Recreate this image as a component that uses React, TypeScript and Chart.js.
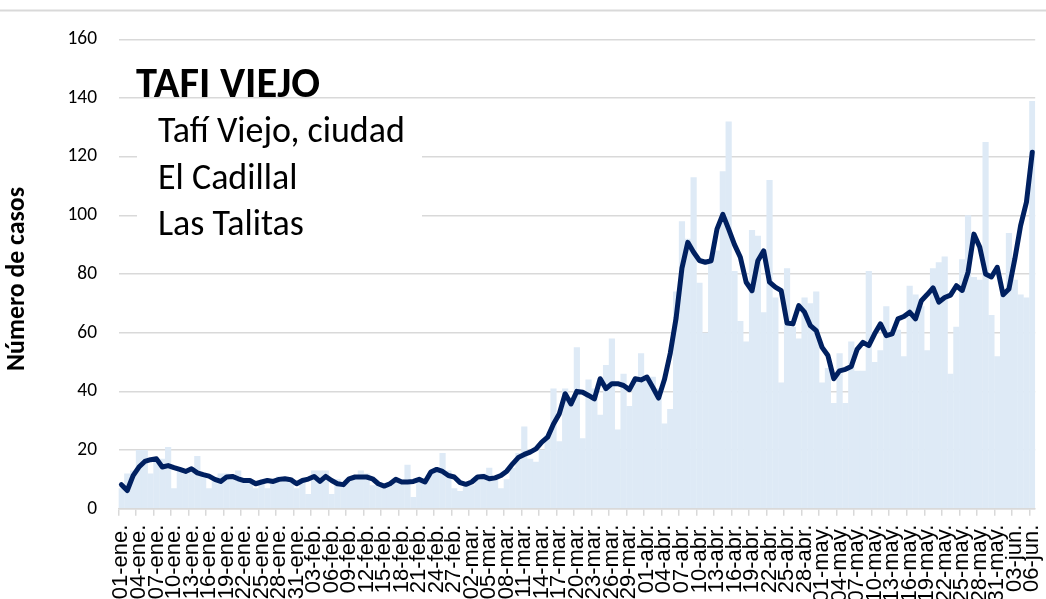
import React, { useEffect, useRef } from 'react';
import { Chart, registerables } from 'chart.js';

Chart.register(...registerables);

const MONTHS = ['ene', 'feb', 'mar', 'abr', 'may', 'jun'];
const MONTH_DAYS = [31, 28, 31, 30, 31, 6];
const LABELS: string[] = [];
MONTHS.forEach((m, mi) => {
  for (let d = 1; d <= MONTH_DAYS[mi]; d++) LABELS.push(`${String(d).padStart(2, '0')}-${m}.`);
});

// daily cases (bars)
const CASES_ENE = [7, 12, 13, 20, 20, 12, 16, 17, 21, 7, 14, 12, 14, 18, 12, 7, 10, 12, 12, 10, 13, 10, 9, 7, 9, 7, 10, 11, 10, 9, 7];
const CASES_FEB = [10, 5, 13, 13, 13, 5, 10, 9, 10, 10, 13, 12, 8, 8, 7, 8, 9, 10, 15, 4, 9, 10, 12, 14, 19, 13, 7, 6];
const CASES_MAR = [8, 8, 10, 12, 14, 10, 7, 10, 14, 19, 28, 17, 16, 20, 25, 41, 23, 41, 38, 55, 24, 44, 41, 32, 49, 58, 27, 46, 35, 44, 53];
const CASES_ABR = [44, 45, 41, 29, 34, 74, 98, 92, 113, 77, 60, 84, 88, 115, 132, 81, 64, 57, 95, 93, 67, 112, 72, 43, 82, 62, 58, 72, 70, 74];
const CASES_MAY = [43, 48, 36, 53, 36, 57, 47, 47, 81, 50, 54, 69, 61, 61, 52, 76, 73, 69, 54, 82, 84, 86, 46, 62, 85, 100, 79, 78, 125, 66, 52];
const CASES_JUN = [73, 94, 78, 73, 72, 139];

// moving average (line)
const AVG_ENE = [8.2, 6.2, 11.3, 14.2, 16.1, 16.7, 17.0, 14.2, 14.7, 14.0, 13.4, 12.7, 13.6, 12.2, 11.6, 11.1, 10.0, 9.3, 10.8, 11.0, 10.2, 9.6, 9.6, 8.5, 9.1, 9.6, 9.3, 10.0, 10.2, 9.9, 8.5];
const AVG_FEB = [9.6, 10.1, 11.0, 9.3, 11.0, 9.6, 8.5, 8.2, 10.2, 10.8, 10.8, 10.8, 10.2, 8.5, 7.7, 8.5, 10.0, 9.1, 9.1, 9.3, 10.0, 9.1, 12.5, 13.4, 12.7, 11.3, 10.8, 8.9];
const AVG_MAR = [8.3, 9.1, 10.8, 11.0, 10.2, 10.5, 11.3, 12.8, 15.3, 17.5, 18.5, 19.3, 20.4, 22.7, 24.4, 28.9, 32.4, 39.2, 35.7, 40.0, 39.7, 38.6, 37.4, 44.3, 40.9, 42.6, 42.6, 42.0, 40.6, 44.3, 43.9];
const AVG_ABR = [44.9, 41.4, 37.7, 44.0, 53.0, 65.0, 82.0, 90.8, 87.4, 84.6, 84.0, 84.5, 95.3, 100.3, 95.3, 90.0, 85.7, 77.2, 74.3, 84.5, 87.9, 77.2, 75.5, 74.3, 63.3, 63.0, 69.2, 67.0, 62.4, 60.7];
const AVG_MAY = [55.0, 52.2, 44.3, 47.0, 47.5, 48.5, 54.3, 56.7, 55.6, 59.6, 63.0, 59.0, 59.6, 64.7, 65.5, 67.0, 64.7, 70.9, 73.0, 75.3, 70.4, 72.0, 72.8, 76.0, 74.4, 80.6, 93.6, 89.2, 80.0, 79.0, 82.3];
const AVG_JUN = [72.9, 74.9, 85.0, 96.5, 104.5, 121.5];

const CASES = [...CASES_ENE, ...CASES_FEB, ...CASES_MAR, ...CASES_ABR, ...CASES_MAY, ...CASES_JUN];
const AVERAGE = [...AVG_ENE, ...AVG_FEB, ...AVG_MAR, ...AVG_ABR, ...AVG_MAY, ...AVG_JUN];

const Y_MIN = 0;
const Y_MAX = 160;
const Y_STEP = 20;

const TITLE = 'TAFI VIEJO';
const SUBTITLES = ['Tafí Viejo, ciudad', 'El Cadillal', 'Las Talitas'];
const Y_TITLE = 'Número de casos';

const CAL = 'Carlito, Calibri, "Open Sans", "Liberation Sans", sans-serif';
const ARIAL = '"Liberation Sans", Arial, sans-serif';

function fitSize(text: string, weight: string, family: string, target: number): number {
  const c = document.createElement('canvas').getContext('2d')!;
  c.font = `${weight} 100px ${family}`;
  const w = c.measureText(text).width;
  return (100 * target) / w;
}

export default function App() {
  const ref = useRef<HTMLCanvasElement | null>(null);

  useEffect(() => {
    if (!ref.current) return;
    const yTickSize = fitSize('160', 'normal', CAL, 29.5);
    const titleSize = fitSize(TITLE, 'bold', CAL, 184);
    const subSize = fitSize(SUBTITLES[0], 'normal', CAL, 247);
    const yTitleSize = fitSize(Y_TITLE, 'bold', CAL, 184);

    const PLOT_LEFT = 118.5;
    const PLOT_RIGHT = 1035.2;
    const PLOT_TOP = 39.3;
    const PLOT_BOTTOM = 508.7;
    const H = 640;

    const overlay = {
      id: 'overlay',
      beforeDraw(chart: any) {
        const { ctx } = chart;
        ctx.save();
        ctx.fillStyle = '#ffffff';
        ctx.fillRect(0, 0, chart.width, chart.height);
        ctx.strokeStyle = '#d9d9d9';
        ctx.lineWidth = 2;
        ctx.beginPath();
        ctx.moveTo(0, 10.5);
        ctx.lineTo(chart.width, 10.5);
        ctx.stroke();
        ctx.restore();
      },
      afterDraw(chart: any) {
        const { ctx } = chart;
        ctx.save();
        // text box
        ctx.fillStyle = '#ffffff';
        ctx.fillRect(137, 101, 285, 150);
        ctx.fillStyle = '#000000';
        ctx.textAlign = 'left';
        ctx.textBaseline = 'alphabetic';
        ctx.font = `bold ${titleSize}px ${CAL}`;
        ctx.fillText(TITLE, 136, 97);
        ctx.font = `normal ${subSize}px ${CAL}`;
        const baselines = [142, 189, 235];
        SUBTITLES.forEach((s, i) => ctx.fillText(s, 158, baselines[i]));
        // y axis title
        ctx.translate(18, 279);
        ctx.rotate(-Math.PI / 2);
        ctx.textAlign = 'center';
        ctx.textBaseline = 'middle';
        ctx.font = `bold ${yTitleSize}px ${CAL}`;
        ctx.fillText(Y_TITLE, 0, 0);
        ctx.restore();
      },
    };

    const chart = new Chart(ref.current, {
      type: 'bar',
      data: {
        labels: LABELS,
        datasets: [
          {
            type: 'line',
            label: 'Promedio',
            data: AVERAGE,
            borderColor: '#002060',
            borderWidth: 5,
            pointRadius: 0,
            tension: 0,
            borderJoinStyle: 'round',
            borderCapStyle: 'round',
            fill: false,
            order: 0,
          } as any,
          {
            type: 'bar',
            label: 'Casos',
            data: CASES,
            backgroundColor: '#DEEAF6',
            borderWidth: 0,
            barPercentage: 1.06,
            categoryPercentage: 1,
            order: 1,
          } as any,
        ],
      },
      options: {
        responsive: false,
        maintainAspectRatio: false,
        animation: false,
        events: [],
        layout: { padding: { left: 0, top: PLOT_TOP, right: 1046 - PLOT_RIGHT, bottom: 0 } },
        plugins: {
          legend: { display: false },
          tooltip: { enabled: false },
          title: { display: false },
        },
        scales: {
          x: {
            type: 'category',
            offset: true,
            grid: {
              offset: true,
              drawOnChartArea: false,
              drawTicks: true,
              tickLength: 7,
              lineWidth: 1.5,
              color: (c: any) => (c.index % 3 === 0 ? '#d9d9d9' : 'rgba(0,0,0,0)'),
            },
            border: { display: true, color: '#d9d9d9', width: 1.5 },
            ticks: {
              autoSkip: false,
              maxRotation: 90,
              minRotation: 90,
              padding: 9,
              color: '#000000',
              font: { family: ARIAL, size: 22 },
              callback: (_v: any, i: number) => (i % 3 === 0 ? LABELS[i] : ''),
            },
            afterFit: (s: any) => {
              s.height = H - PLOT_BOTTOM;
              s.paddingLeft = 0;
              s.paddingRight = 0;
            },
          },
          y: {
            min: Y_MIN,
            max: Y_MAX,
            ticks: {
              stepSize: Y_STEP,
              padding: 21.5,
              color: '#000000',
              font: { family: CAL, size: yTickSize },
            },
            grid: { color: '#d9d9d9', lineWidth: 1.5, drawTicks: false },
            border: { display: false },
            afterFit: (s: any) => {
              s.width = PLOT_LEFT;
              s.paddingTop = 0;
              s.paddingBottom = 0;
            },
          },
        },
      },
      plugins: [overlay],
    } as any);
    return () => chart.destroy();
  }, []);

  return (
    <div
      style={{
        position: 'fixed',
        left: 0,
        top: 0,
        width: 1046,
        height: 599,
        overflow: 'hidden',
        background: '#ffffff',
      }}
    >
      <canvas ref={ref} width={1046} height={640} style={{ width: 1046, height: 640, display: 'block' }} />
    </div>
  );
}
